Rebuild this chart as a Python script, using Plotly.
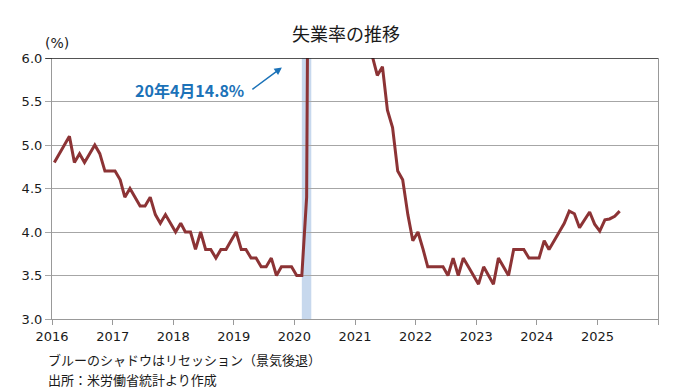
import pandas as pd
import plotly.graph_objects as go

# Monthly unemployment rate (%), Jan 2016 - May 2025
rate_2016 = [4.8, 4.9, 5.0, 5.1, 4.8, 4.9, 4.8, 4.9, 5.0, 4.9, 4.7, 4.7]
rate_2017 = [4.7, 4.6, 4.4, 4.5, 4.4, 4.3, 4.3, 4.4, 4.2, 4.1, 4.2, 4.1]
rate_2018 = [4.0, 4.1, 4.0, 4.0, 3.8, 4.0, 3.8, 3.8, 3.7, 3.8, 3.8, 3.9]
rate_2019 = [4.0, 3.8, 3.8, 3.7, 3.7, 3.6, 3.6, 3.7, 3.5, 3.6, 3.6, 3.6]
rate_2020 = [3.5, 3.5, 4.4, 14.8, 13.2, 11.0, 10.2, 8.4, 7.8, 6.9, 6.7, 6.7]
rate_2021 = [6.4, 6.2, 6.05, 6.02, 5.8, 5.9, 5.4, 5.2, 4.7, 4.6, 4.2, 3.9]
rate_2022 = [4.0, 3.8, 3.6, 3.6, 3.6, 3.6, 3.5, 3.7, 3.5, 3.7, 3.6, 3.5]
rate_2023 = [3.4, 3.6, 3.5, 3.4, 3.7, 3.6, 3.5, 3.8, 3.8, 3.8, 3.7, 3.7]
rate_2024 = [3.7, 3.9, 3.8, 3.9, 4.0, 4.1, 4.24, 4.21, 4.05, 4.14, 4.23, 4.09]
rate_2025 = [4.01, 4.14, 4.15, 4.18, 4.24]

rates = (rate_2016 + rate_2017 + rate_2018 + rate_2019 + rate_2020 +
         rate_2021 + rate_2022 + rate_2023 + rate_2024 + rate_2025)
start_month = "2016-01-01"
months = pd.date_range(start_month, periods=len(rates), freq="MS") + pd.Timedelta(days=14)

year_ticks = [f"{y}-01-01" for y in range(2016, 2027)]
year_labels = [str(y) for y in range(2016, 2026)] + [""]

recession_start = "2020-02-15"
recession_end = "2020-04-12"

title_text = "失業率の推移"
annot_text = "20年4月14.8%"
note1 = "ブルーのシャドウはリセッション（景気後退）"
note2 = "出所：米労働省統計より作成"

JP = "Noto Sans CJK JP"
NUM = "DejaVu Sans"

# page body has an 8px margin; figure is sized to fit the window
W, H = 690, 384
PL, PR, PT, PB = 44, 650.3, 50.3, 311.3   # plot area in figure pixels
PW, PH = PR - PL, PB - PT


def px(x):  # window pixel -> paper x
    return (x - 8 - PL) / PW


def py(y):  # window pixel -> paper y
    return (PB - (y - 8)) / PH


fig = go.Figure()
fig.add_trace(go.Scatter(
    x=months, y=rates, mode="lines",
    line=dict(color="#8c3335", width=3),
    hoverinfo="skip", showlegend=False,
))

fig.add_shape(type="rect", xref="x", yref="y",
              x0=recession_start, x1=recession_end, y0=3.0, y1=6.0,
              fillcolor="#c7d8ed", line_width=0, layer="below")
fig.add_shape(type="line", xref="paper", yref="y",
              x0=-0.011, x1=1, y0=6.0, y1=6.0,
              line=dict(color="#1a1a1a", width=1.5))

fig.update_layout(
    width=W, height=H,
    margin=dict(l=PL, r=W - PR, t=PT, b=H - PB, pad=0),
    paper_bgcolor="white", plot_bgcolor="white",
    font=dict(family=NUM, color="#1a1a1a", size=13),
    xaxis=dict(
        type="date",
        range=["2016-01-01", "2026-01-01"],
        tickvals=year_ticks, ticktext=year_labels,
        showgrid=False, showline=True, linecolor="#999999", linewidth=1.2,
        ticks="outside", ticklen=5, tickcolor="#999999", tickwidth=1.2,
        tickfont=dict(family=NUM, size=13, color="#1a1a1a"),
        zeroline=False,
    ),
    yaxis=dict(
        range=[3.0, 6.0], dtick=0.5, tick0=3.0, tickformat=".1f",
        showgrid=True, gridcolor="#a6a6a6", gridwidth=1.3,
        showline=True, mirror=True, linecolor="#999999", linewidth=1.2,
        ticks="outside", ticklen=6, tickcolor="#a6a6a6", tickwidth=1.2,
        tickfont=dict(family=NUM, size=13, color="#1a1a1a"),
        zeroline=False,
    ),
    annotations=[
        dict(text=title_text, xref="paper", yref="paper", x=px(346), y=py(33),
             showarrow=False, xanchor="center", yanchor="middle",
             font=dict(family=JP, size=18, color="#1a1a1a")),
        dict(text="(%)", xref="paper", yref="paper", x=px(43), y=py(43),
             showarrow=False, xanchor="left", yanchor="middle",
             font=dict(family=NUM, size=14, color="#1a1a1a")),
        dict(text=f"<b>{annot_text}</b>", xref="paper", yref="paper",
             x=px(246), y=py(90.5), showarrow=False,
             xanchor="right", yanchor="middle",
             font=dict(family=JP, size=16, color="#1b72b8")),
        dict(text="", xref="paper", yref="paper",
             x=px(282), y=py(67.7),
             ax=-31, ay=23, axref="pixel", ayref="pixel",
             showarrow=True, arrowhead=2, arrowsize=1, arrowwidth=1.5,
             arrowcolor="#1b72b8"),
        dict(text=note1, xref="paper", yref="paper", x=px(46),
             y=py(360), showarrow=False, xanchor="left",
             yanchor="middle", font=dict(family=JP, size=13, color="#1a1a1a")),
        dict(text=note2, xref="paper", yref="paper", x=px(46),
             y=py(380), showarrow=False, xanchor="left",
             yanchor="middle", font=dict(family=JP, size=13, color="#1a1a1a")),
    ],
)

fig.write_html("out.html")
